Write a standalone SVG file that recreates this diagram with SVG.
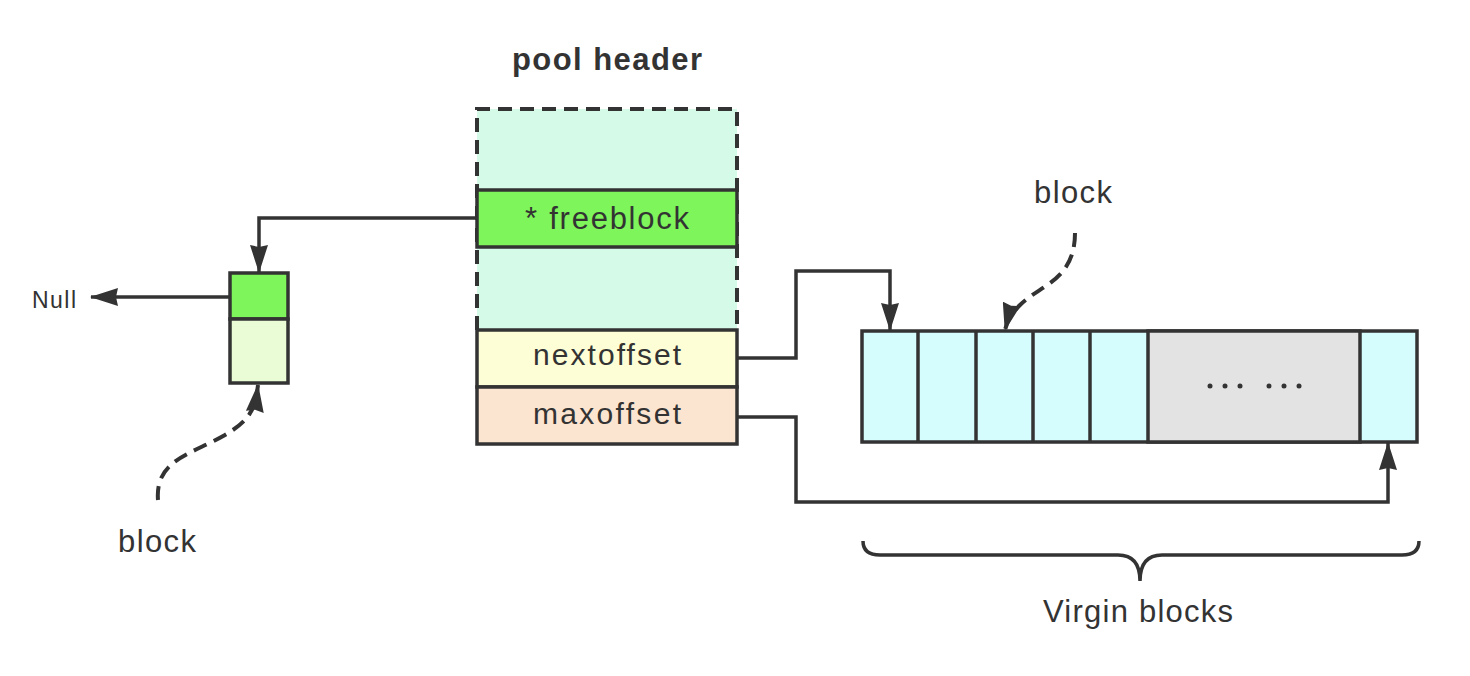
<svg xmlns="http://www.w3.org/2000/svg" width="1470" height="676" viewBox="0 0 1470 676">
<style>
text{font-family:"Liberation Sans",Arial,sans-serif;fill:#333}
.box{stroke:#333;stroke-width:3.5}
.conn{fill:none;stroke:#333;stroke-width:3.5}
.dash{fill:none;stroke:#333;stroke-width:4;stroke-dasharray:14 8}
</style>
<defs>
<marker id="arr" viewBox="0 0 28 18" refX="27" refY="9" markerWidth="28" markerHeight="18" markerUnits="userSpaceOnUse" orient="auto">
<path d="M0,0 L28,9 L0,18 L2,9 Z" fill="#333"/>
</marker>
</defs>
<rect width="1470" height="676" fill="#fff"/>
<text x="607" y="70" font-size="31" font-weight="bold" text-anchor="middle" textLength="190" lengthAdjust="spacing">pool header</text>
<g id="pool-header">
<rect x="477" y="109" width="260" height="221" fill="#d5fbe8"/>
<path d="M477,330 L477,109 L737,109 L737,330" class="dash" stroke-width="3.5"/>
<rect x="477" y="190" width="260" height="57" fill="#7ef55a" class="box"/>
<text x="607" y="229" font-size="31" text-anchor="middle" textLength="164" lengthAdjust="spacing">* freeblock</text>
<rect x="477" y="330" width="260" height="57" fill="#fefed6" class="box"/>
<text x="607" y="365" font-size="30" text-anchor="middle" textLength="148" lengthAdjust="spacing">nextoffset</text>
<rect x="477" y="387" width="260" height="57" fill="#fbe5d0" class="box"/>
<text x="607" y="424" font-size="30" text-anchor="middle" textLength="148" lengthAdjust="spacing">maxoffset</text>
</g>
<g id="free-block">
<rect x="230" y="273" width="58" height="46" fill="#7ef55a" class="box"/>
<rect x="230" y="319" width="58" height="64" fill="#e9fcd5" class="box"/>
</g>
<text x="54" y="308" font-size="23" text-anchor="middle" textLength="44" lengthAdjust="spacing">Null</text>
<text x="157" y="552" font-size="31" text-anchor="middle" textLength="78" lengthAdjust="spacing">block</text>
<g id="virgin-array">
<rect x="862" y="331" width="555" height="111" fill="#d5fdfd" class="box"/>
<rect x="1148" y="331" width="212" height="111" fill="#e3e3e3" class="box"/>
<line x1="918" y1="331" x2="918" y2="442" class="box"/>
<line x1="976" y1="331" x2="976" y2="442" class="box"/>
<line x1="1033" y1="331" x2="1033" y2="442" class="box"/>
<line x1="1090" y1="331" x2="1090" y2="442" class="box"/>
<g fill="#333">
<circle cx="1210" cy="386" r="2.5"/><circle cx="1225" cy="386" r="2.5"/><circle cx="1240" cy="386" r="2.5"/>
<circle cx="1269" cy="386" r="2.5"/><circle cx="1284" cy="386" r="2.5"/><circle cx="1299" cy="386" r="2.5"/>
</g>
</g>
<text x="1073" y="203" font-size="31" text-anchor="middle" textLength="78" lengthAdjust="spacing">block</text>
<g id="brace">
<path d="M863,541 Q863,555 880,555 L1118,555 Q1140,555 1140,581 Q1140,555 1162,555 L1402,555 Q1419,555 1419,541" class="conn" stroke-width="4"/>
</g>
<text x="1138" y="622" font-size="31" text-anchor="middle" textLength="190" lengthAdjust="spacing">Virgin blocks</text>
<g id="connectors">
<path d="M477,218 L259,218 L259,272" class="conn" marker-end="url(#arr)"/>
<path d="M230,297 L91,297" class="conn" marker-end="url(#arr)"/>
<path d="M737,358 L796,358 L796,271 L890,271 L890,330" class="conn" marker-end="url(#arr)"/>
<path d="M737,417 L796,417 L796,502 L1388,502 L1388,443" class="conn" marker-end="url(#arr)"/>
<path d="M158,500 C155,460 190,455 225,435 C250,420 255,410 258,385" class="dash" marker-end="url(#arr)"/>
<path d="M1075,233 C1075,280 1040,285 1020,305 C1010,315 1007,322 1005,330" class="dash" marker-end="url(#arr)"/>
</g>
</svg>
